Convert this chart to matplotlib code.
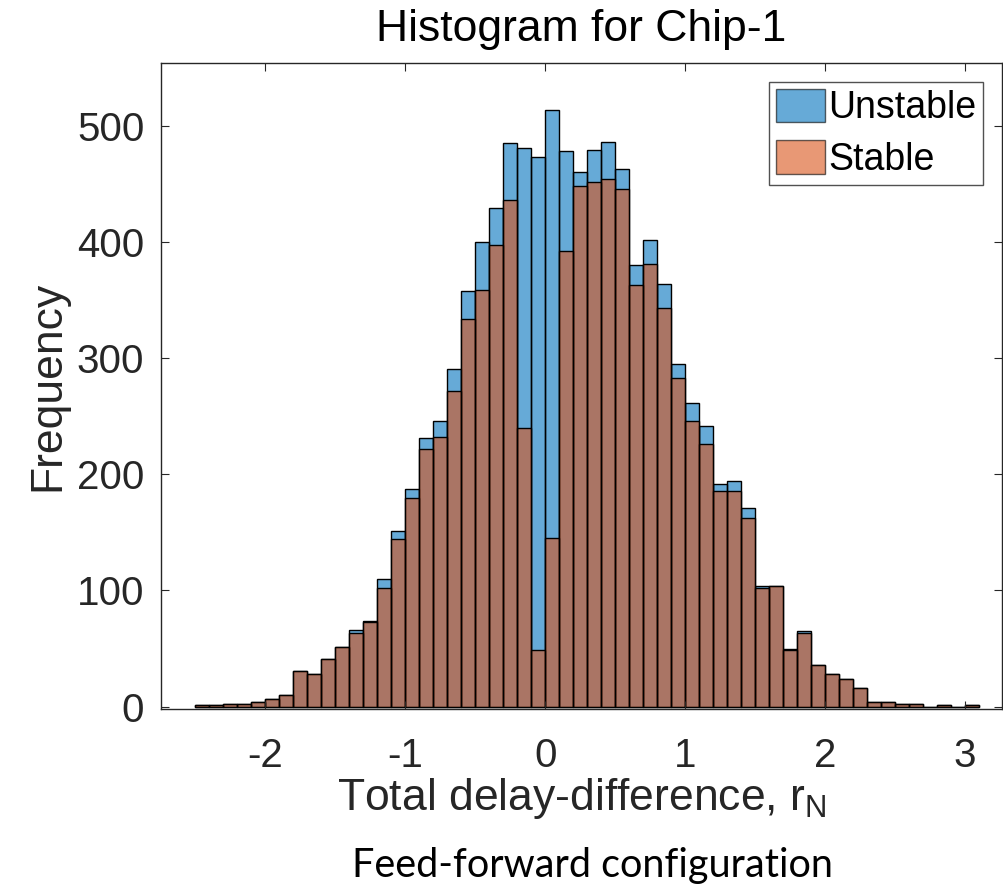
import numpy as np
import matplotlib
matplotlib.use('Agg')
import matplotlib.pyplot as plt

# bin lower edges (width 0.1)
bin_width = 0.1
bin_left = np.round(np.arange(-2.5, 3.05, bin_width), 1)

# counts
unstable = [1, 1, 2, 2, 4, 7, 10, 31, 28, 41,
            51, 66, 74, 110, 151, 187, 231, 246, 291, 358,
            400, 429, 485, 481, 473, 514, 478, 460, 479, 486,
            463, 380, 402, 364, 295, 261, 242, 192, 194, 171,
            104, 104, 50, 65, 36, 28, 24, 16, 4, 4,
            2, 2, 0, 1, 0, 1]
stable = [1, 1, 2, 2, 4, 7, 10, 31, 28, 41,
          51, 63, 73, 102, 144, 180, 222, 232, 272, 334,
          359, 397, 436, 240, 49, 145, 392, 448, 452, 454,
          446, 363, 381, 343, 283, 246, 226, 186, 186, 162,
          102, 104, 49, 63, 36, 28, 24, 16, 4, 4,
          2, 2, 0, 1, 0, 1]

plt.rcParams['font.family'] = ['Liberation Sans', 'DejaVu Sans']
plt.rcParams['mathtext.fontset'] = 'custom'
plt.rcParams['mathtext.rm'] = 'Liberation Sans'
plt.rcParams['mathtext.it'] = 'Liberation Sans'
plt.rcParams['axes.unicode_minus'] = False

axis_col = '#262626'

fig = plt.figure(figsize=(10.04, 8.89), dpi=100)
ax = fig.add_axes([0.1604, 0.2025, 0.8376, 0.7266])

ax.bar(bin_left, unstable, width=bin_width, align='edge',
       color='#0072BD', alpha=0.6, edgecolor='none', label='Unstable')
ax.bar(bin_left, unstable, width=bin_width, align='edge',
       facecolor='none', edgecolor='black', linewidth=1.0)
ax.bar(bin_left, stable, width=bin_width, align='edge',
       color='#D95319', alpha=0.6, edgecolor='none', label='Stable')
ax.bar(bin_left, stable, width=bin_width, align='edge',
       facecolor='none', edgecolor='black', linewidth=1.0)

ax.set_xlim(-2.745, 3.265)
ax.set_ylim(-2, 554)
ax.set_xticks([-2, -1, 0, 1, 2, 3])
ax.set_yticks([0, 100, 200, 300, 400, 500])
ax.tick_params(direction='in', length=6, width=0.8, top=True, right=True,
               labelsize=29, colors=axis_col)
ax.tick_params(axis='x', pad=20)
ax.tick_params(axis='y', pad=12)
for sp in ax.spines.values():
    sp.set_color(axis_col)
    sp.set_linewidth(1.0)

ax.set_title('Histogram for Chip-1', fontsize=32, pad=16, color='black')
ax.set_ylabel('Frequency', fontsize=32, color=axis_col, labelpad=6)
ax.set_xlabel(r'Total delay-difference, r$_{\mathrm{N}}$', fontsize=32,
              color=axis_col, labelpad=1)

leg = ax.legend(loc='upper right', fontsize=27, frameon=True, fancybox=False,
                handlelength=1.3, handleheight=1.0, handletextpad=0.1,
                labelspacing=0.38, borderpad=0.18, borderaxespad=0.5)
leg.get_frame().set_edgecolor(axis_col)
leg.get_frame().set_linewidth(1.0)
for h in leg.legend_handles:
    h.set_edgecolor('black')
    h.set_linewidth(1.0)

fig.text(0.59, 1 - 866 / 889, 'Feed-forward configuration', fontsize=28.5,
         family=['Lato', 'DejaVu Sans'], ha='center', va='center', color='black')

fig.savefig('out.png', dpi=100)
